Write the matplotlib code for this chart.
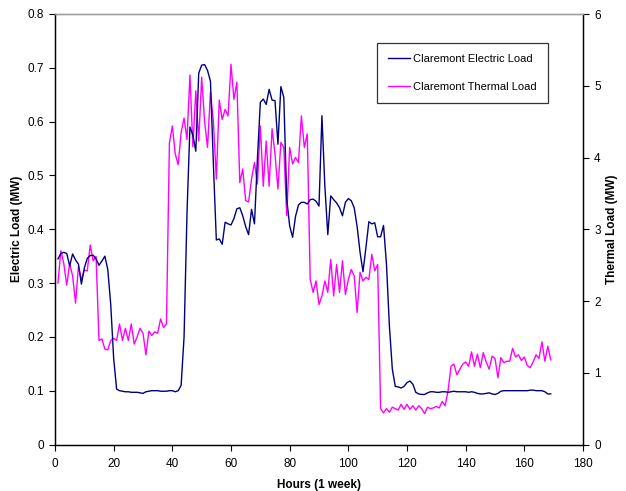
import matplotlib
matplotlib.use("Agg")
import matplotlib.pyplot as plt
import numpy as np

plt.rcParams['font.family'] = ['Liberation Sans', 'DejaVu Sans']

hours = list(range(1, 170))

electric_load = [
    0.345, 0.355, 0.357, 0.355, 0.332, 0.354, 0.343, 0.335, 0.298, 0.328,
    0.346, 0.351, 0.352, 0.345, 0.333, 0.341, 0.350, 0.325, 0.260, 0.160,
    0.103, 0.100, 0.099, 0.098, 0.098, 0.097, 0.097, 0.097, 0.096, 0.095,
    0.098, 0.099, 0.100, 0.100, 0.100, 0.099, 0.099, 0.099, 0.100, 0.100,
    0.098, 0.100, 0.110, 0.200, 0.430, 0.590, 0.575, 0.545, 0.690, 0.705,
    0.706, 0.695, 0.675, 0.520, 0.380, 0.382, 0.372, 0.413, 0.410, 0.408,
    0.420, 0.438, 0.440, 0.425, 0.405, 0.390, 0.437, 0.410, 0.530, 0.636,
    0.642, 0.632, 0.660, 0.640, 0.639, 0.558, 0.665, 0.645, 0.456, 0.406,
    0.385, 0.424, 0.445, 0.450, 0.450, 0.447, 0.455, 0.456, 0.452, 0.443,
    0.611, 0.480, 0.390, 0.462, 0.455, 0.449, 0.440, 0.425, 0.450, 0.457,
    0.453, 0.440, 0.405, 0.357, 0.321, 0.366, 0.414, 0.410, 0.412, 0.386,
    0.386, 0.407, 0.335, 0.220, 0.140, 0.108, 0.107, 0.105, 0.108, 0.115,
    0.118, 0.112, 0.097, 0.094, 0.093, 0.093, 0.096, 0.098, 0.098, 0.097,
    0.097, 0.098, 0.098, 0.097, 0.098, 0.099, 0.098, 0.098, 0.098, 0.098,
    0.097, 0.098, 0.097, 0.095, 0.094, 0.094, 0.095, 0.096, 0.094, 0.093,
    0.095, 0.099, 0.100, 0.100, 0.100, 0.100, 0.100, 0.100, 0.100, 0.100,
    0.100, 0.101, 0.101, 0.100, 0.100, 0.100, 0.098, 0.094, 0.094,
]

thermal_load = [
    2.25, 2.70, 2.52, 2.22, 2.52, 2.35, 1.97, 2.48, 2.30, 2.43,
    2.42, 2.78, 2.56, 2.62, 1.45, 1.47, 1.33, 1.32, 1.45, 1.48,
    1.45, 1.68, 1.45, 1.62, 1.45, 1.68, 1.40, 1.50, 1.62, 1.55,
    1.25, 1.58, 1.52, 1.57, 1.55, 1.75, 1.63, 1.68, 4.20, 4.44,
    4.05, 3.90, 4.35, 4.55, 4.25, 5.15, 4.15, 4.93, 4.23, 5.12,
    4.50, 4.14, 4.91, 4.50, 3.70, 4.80, 4.53, 4.67, 4.58, 5.30,
    4.81, 5.05, 3.65, 3.84, 3.40, 3.38, 3.70, 3.93, 3.63, 4.44,
    3.60, 4.23, 3.60, 4.40, 4.05, 3.56, 4.21, 4.14, 3.19, 4.14,
    3.91, 4.00, 3.93, 4.58, 4.14, 4.33, 2.30, 2.12, 2.28, 1.95,
    2.07, 2.28, 2.12, 2.58, 2.07, 2.51, 2.12, 2.56, 2.09, 2.30,
    2.44, 2.35, 1.84, 2.40, 2.28, 2.33, 2.30, 2.65, 2.42, 2.51,
    0.50, 0.44, 0.50, 0.45, 0.52, 0.50, 0.48, 0.56, 0.49, 0.56,
    0.49, 0.54, 0.48, 0.54, 0.50, 0.43, 0.52, 0.50, 0.51, 0.53,
    0.51, 0.60, 0.54, 0.75, 1.09, 1.12, 0.97, 1.05, 1.12, 1.15,
    1.09, 1.29, 1.09, 1.26, 1.07, 1.28, 1.15, 1.05, 1.23, 1.20,
    0.93, 1.21, 1.14, 1.16, 1.16, 1.34, 1.22, 1.25, 1.17, 1.22,
    1.10, 1.07, 1.15, 1.25, 1.20, 1.43, 1.16, 1.37, 1.18,
]

x_ticks = list(range(0, 181, 20))
left_ticks = [0, 0.1, 0.2, 0.3, 0.4, 0.5, 0.6, 0.7, 0.8]
left_tick_labels = ['0', '0.1', '0.2', '0.3', '0.4', '0.5', '0.6', '0.7', '0.8']
right_ticks = [0, 1, 2, 3, 4, 5, 6]

fig = plt.figure(figsize=(6.26, 4.91), dpi=100)
ax = fig.add_axes([55/626, 46.5/491, 528/626, 430.5/491])
ax2 = ax.twinx()

l1, = ax.plot(hours, electric_load, color='#000080', lw=1.0, label='Claremont Electric Load')
l2, = ax2.plot(hours, thermal_load, color='#FF00FF', lw=1.0, label='Claremont Thermal Load')
ax.set_zorder(ax2.get_zorder() + 1)
ax.patch.set_visible(False)

ax.set_xlim(0, 180)
ax.set_ylim(0, 0.8)
ax2.set_ylim(0, 6)
ax.set_xticks(x_ticks)
ax.set_yticks(left_ticks)
ax.set_yticklabels(left_tick_labels)
ax2.set_yticks(right_ticks)

for a in (ax, ax2):
    a.tick_params(direction='out', length=4, width=0.8, labelsize=8.5, colors='black', pad=4)
    for s in ('left', 'right', 'bottom'):
        a.spines[s].set_color('black')
        a.spines[s].set_linewidth(0.9)
    a.spines['top'].set_color('#a0a0a0')
    a.spines['top'].set_linewidth(1.0)
ax.tick_params(axis='x', pad=6)

ax.set_xlabel('Hours (1 week)', fontsize=8.5, fontweight='bold', labelpad=6)
ax.set_ylabel('Electric Load (MW)', fontsize=8.5, fontweight='bold', labelpad=3)
ax2.set_ylabel('Thermal Load (MW)', fontsize=8.5, fontweight='bold', labelpad=4, rotation=90)

leg = ax.legend(handles=[l1, l2], loc='upper left', bbox_to_anchor=(0.609, 0.932),
                fontsize=8, frameon=True, fancybox=False, handlelength=2.0,
                handletextpad=0.3, borderpad=1.0, labelspacing=1.55, borderaxespad=0)
leg.get_frame().set_edgecolor('black')
leg.get_frame().set_linewidth(0.9)

fig.savefig('out.png', dpi=100)
